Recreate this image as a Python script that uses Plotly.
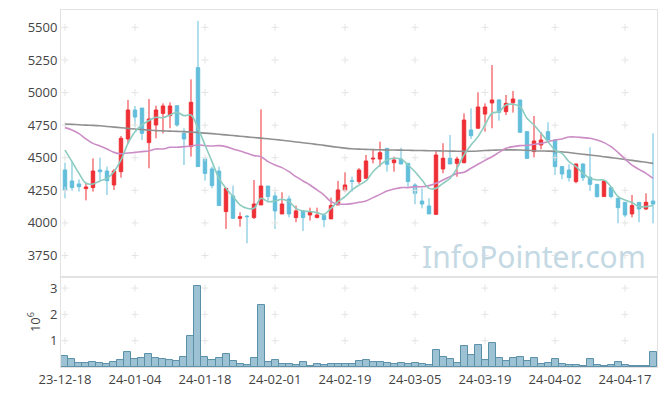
import plotly.graph_objects as go
from plotly.subplots import make_subplots

# ---------------- data ----------------
dates = [
    "2023-12-18", "2023-12-19", "2023-12-20", "2023-12-21", "2023-12-22", "2023-12-26", "2023-12-27", "2023-12-28",
    "2024-01-02", "2024-01-03", "2024-01-04", "2024-01-05", "2024-01-08", "2024-01-09", "2024-01-10", "2024-01-11",
    "2024-01-12", "2024-01-15", "2024-01-16", "2024-01-17", "2024-01-18", "2024-01-19", "2024-01-22", "2024-01-23",
    "2024-01-24", "2024-01-25", "2024-01-26", "2024-01-29", "2024-01-30", "2024-01-31",
    "2024-02-01", "2024-02-02", "2024-02-05", "2024-02-06", "2024-02-07", "2024-02-08", "2024-02-13", "2024-02-14",
    "2024-02-15", "2024-02-16", "2024-02-19", "2024-02-20", "2024-02-21", "2024-02-22", "2024-02-23", "2024-02-26",
    "2024-02-27", "2024-02-28", "2024-02-29",
    "2024-03-04", "2024-03-05", "2024-03-06", "2024-03-07", "2024-03-08", "2024-03-11", "2024-03-12", "2024-03-13",
    "2024-03-14", "2024-03-15", "2024-03-18", "2024-03-19", "2024-03-20", "2024-03-21", "2024-03-22", "2024-03-25",
    "2024-03-26", "2024-03-27", "2024-03-28", "2024-03-29",
    "2024-04-01", "2024-04-02", "2024-04-03", "2024-04-04", "2024-04-05", "2024-04-08", "2024-04-09", "2024-04-11",
    "2024-04-12", "2024-04-15", "2024-04-16", "2024-04-17", "2024-04-18", "2024-04-19", "2024-04-22", "2024-04-23",
]

opens = [4406, 4322, 4299, 4263, 4271, 4406, 4398, 4291, 4393, 4644,
         4866, 4881, 4616, 4751, 4840, 4823, 4899, 4687, 4585, 5191,
         4490, 4414, 4398, 4087, 4207, 4035, 4052, 4041, 4138, 4283,
         4207, 4069, 4184, 4041, 4092, 4061, 4041, 4056, 4031, 4138,
         4248, 4324, 4317, 4342, 4490, 4490, 4572, 4462, 4490, 4457,
         4291, 4168, 4130, 4066, 4414, 4496, 4457, 4462, 4713, 4726,
         4835, 4920, 4943, 4853, 4922, 4943, 4700, 4547, 4598, 4700,
         4636, 4432, 4406, 4317, 4452, 4350, 4296, 4202, 4271, 4189,
         4158, 4069, 4158, 4107, 4168]
highs = [4462, 4475, 4334, 4309, 4495, 4501, 4432, 4414, 4667, 4943,
         4897, 4881, 4950, 4899, 4917, 4925, 4899, 4726, 5101, 5549,
         4490, 4432, 4432, 4265, 4286, 4081, 4061, 4329, 4871, 4283,
         4240, 4235, 4209, 4133, 4099, 4117, 4117, 4069, 4194, 4322,
         4388, 4355, 4420, 4521, 4559, 4623, 4572, 4508, 4577, 4457,
         4304, 4265, 4189, 4552, 4611, 4674, 4508, 4840, 4879, 5002,
         4917, 5211, 4950, 4981, 5012, 4943, 4700, 4820, 4695, 4772,
         4636, 4432, 4450, 4452, 4457, 4580, 4296, 4322, 4271, 4189,
         4158, 4214, 4158, 4227, 4687]
lows = [4189, 4248, 4240, 4173, 4240, 4329, 4214, 4253, 4347, 4610,
        4738, 4636, 4419, 4649, 4687, 4726, 4738, 4444, 4508, 4432,
        4324, 4265, 4133, 3954, 4035, 3972, 3844, 4030, 4138, 4168,
        3954, 4069, 4043, 4005, 3938, 4018, 4036, 3967, 4031, 4138,
        4240, 4240, 4300, 4342, 4457, 4432, 4393, 4393, 4452, 4278,
        4143, 4112, 4069, 4061, 4381, 4452, 4354, 4457, 4644, 4726,
        4700, 4726, 4784, 4828, 4846, 4695, 4495, 4503, 4565, 4636,
        4368, 4335, 4317, 4304, 4322, 4245, 4194, 4202, 4189, 3997,
        4043, 4043, 4005, 4099, 3997]
closes = [4253, 4271, 4278, 4276, 4398, 4393, 4324, 4398, 4649, 4866,
          4812, 4687, 4797, 4866, 4897, 4897, 4751, 4644, 4925, 4432,
          4380, 4286, 4133, 4265, 4035, 4048, 4048, 4145, 4283, 4202,
          4092, 4145, 4069, 4092, 4041, 4081, 4061, 4025, 4133, 4253,
          4291, 4319, 4406, 4475, 4496, 4539, 4450, 4483, 4452, 4317,
          4227, 4145, 4069, 4521, 4496, 4452, 4490, 4789, 4669, 4889,
          4889, 4943, 4848, 4917, 4950, 4695, 4495, 4628, 4636, 4636,
          4432, 4375, 4347, 4452, 4347, 4296, 4202, 4322, 4202, 4117,
          4061, 4133, 4107, 4158, 4145]

ma5 = [4559, 4470, 4380, 4304, 4299, 4322, 4342, 4393, 4483, 4610,
       4700, 4751, 4785, 4810, 4807, 4828, 4848, 4823, 4828, 4726,
       4598, 4470, 4342, 4265, 4202, 4138, 4112, 4112, 4189, 4163,
       4168, 4181, 4163, 4112, 4092, 4087, 4079, 4066, 4112, 4163,
       4202, 4253, 4290, 4322, 4393, 4444, 4483, 4496, 4490, 4444,
       4393, 4329, 4265, 4265, 4304, 4342, 4419, 4521, 4598, 4662,
       4751, 4841, 4853, 4904, 4910, 4892, 4802, 4751, 4687, 4623,
       4559, 4534, 4470, 4432, 4380, 4342, 4329, 4329, 4278, 4202,
       4176, 4156, 4125, 4125, 4133]
ma20 = [4731, 4713, 4685, 4644, 4610, 4590, 4567, 4541, 4531, 4536,
        4541, 4547, 4552, 4567, 4567, 4580, 4580, 4585, 4590, 4598,
        4593, 4590, 4593, 4585, 4567, 4552, 4534, 4516, 4508, 4470,
        4444, 4424, 4393, 4355, 4322, 4291, 4253, 4214, 4163, 4145,
        4143, 4148, 4158, 4168, 4194, 4219, 4245, 4260, 4271, 4271,
        4278, 4278, 4286, 4304, 4329, 4355, 4380, 4388, 4419, 4450,
        4480, 4508, 4541, 4572, 4585, 4593, 4595, 4603, 4610, 4623,
        4636, 4644, 4659, 4659, 4654, 4649, 4636, 4616, 4585, 4541,
        4490, 4444, 4411, 4380, 4342]
ma120 = [4759, 4756, 4753, 4750, 4748, 4745, 4740, 4735, 4730, 4725,
         4720, 4716, 4712, 4708, 4706, 4704, 4702, 4700, 4697, 4693,
         4689, 4685, 4680, 4675, 4670, 4665, 4660, 4655, 4650, 4645,
         4640, 4634, 4628, 4621, 4615, 4609, 4602, 4595, 4587, 4580,
         4574, 4569, 4566, 4564, 4562, 4561, 4560, 4559, 4558, 4557,
         4556, 4555, 4554, 4553, 4552, 4551, 4550, 4549, 4550, 4552,
         4555, 4557, 4559, 4560, 4560, 4559, 4557, 4554, 4552, 4551,
         4549, 4545, 4540, 4533, 4527, 4521, 4515, 4508, 4501, 4494,
         4487, 4480, 4472, 4465, 4457]

volume_millions = [0.41, 0.29, 0.14, 0.14, 0.18, 0.14, 0.10, 0.18, 0.25, 0.56,
                   0.29, 0.33, 0.48, 0.33, 0.29, 0.25, 0.22, 0.37, 1.17, 3.07,
                   0.37, 0.25, 0.33, 0.48, 0.22, 0.10, 0.06, 0.33, 2.35, 0.18,
                   0.25, 0.10, 0.10, 0.06, 0.18, 0.03, 0.10, 0.06, 0.10, 0.10,
                   0.10, 0.10, 0.22, 0.25, 0.18, 0.18, 0.14, 0.10, 0.14, 0.10,
                   0.14, 0.10, 0.06, 0.64, 0.37, 0.29, 0.14, 0.79, 0.44, 0.83,
                   0.25, 0.90, 0.33, 0.22, 0.33, 0.37, 0.22, 0.33, 0.10, 0.14,
                   0.29, 0.10, 0.06, 0.06, 0.03, 0.29, 0.06, 0.03, 0.06, 0.18,
                   0.06, 0.03, 0.03, 0.03, 0.56]

price_ticks = [3750, 4000, 4250, 4500, 4750, 5000, 5250, 5500]
volume_ticks = [1, 2, 3]
x_tick_dates = dates[::10]
x_tick_labels = [d[2:] for d in x_tick_dates]

# ---------------- figure ----------------
fig = make_subplots(rows=2, cols=1, shared_xaxes=True, vertical_spacing=0,
                    row_heights=[0.748, 0.252])

fig.add_trace(go.Candlestick(
    x=dates, open=opens, high=highs, low=lows, close=closes,
    increasing=dict(line=dict(color="#ee2f35", width=1), fillcolor="#ee2f35"),
    decreasing=dict(line=dict(color="#62bedb", width=1), fillcolor="#62bedb"),
    showlegend=False), row=1, col=1)

cross_style = dict(symbol="cross-thin", size=5, line=dict(color="#e4e4e4", width=1))
fig.add_trace(go.Scatter(
    x=[d for d in x_tick_dates for _ in price_ticks],
    y=[p for _ in x_tick_dates for p in price_ticks],
    mode="markers", marker=cross_style, hoverinfo="skip", showlegend=False), row=1, col=1)
fig.add_trace(go.Scatter(
    x=[d for d in x_tick_dates for _ in volume_ticks],
    y=[v for _ in x_tick_dates for v in volume_ticks],
    mode="markers", marker=cross_style, hoverinfo="skip", showlegend=False), row=2, col=1)

fig.add_trace(go.Scatter(x=dates, y=ma120, mode="lines",
                         line=dict(color="#909090", width=1.6, shape="spline"),
                         showlegend=False), row=1, col=1)
fig.add_trace(go.Scatter(x=dates, y=ma20, mode="lines",
                         line=dict(color="#cc8dc6", width=1.6, shape="spline"),
                         showlegend=False), row=1, col=1)
fig.add_trace(go.Scatter(x=dates, y=ma5, mode="lines",
                         line=dict(color="#8ccbbf", width=1.6, shape="spline"),
                         showlegend=False), row=1, col=1)

fig.add_trace(go.Bar(x=dates, y=volume_millions,
                     marker=dict(color="#9dc2d3", line=dict(color="#5a8fa8", width=1)),
                     showlegend=False), row=2, col=1)

axis_common = dict(showline=True, linecolor="#e2e2e2", linewidth=1, mirror=True,
                   showgrid=False, zeroline=False, ticks="")
fig.update_xaxes(type="category", categoryorder="array", categoryarray=dates,
                 range=[-0.57, 84.57], rangeslider_visible=False, **axis_common)
fig.update_xaxes(showticklabels=False, row=1, col=1)
fig.update_xaxes(tickvals=x_tick_dates, ticktext=x_tick_labels, tickangle=0, row=2, col=1,
                 tickfont=dict(size=13, color="#444"))
fig.update_yaxes(range=[3585, 5633], tickvals=price_ticks, row=1, col=1,
                 tickfont=dict(size=13, color="#444"), **axis_common)
fig.update_yaxes(range=[0, 3.42], tickvals=volume_ticks, row=2, col=1,
                 tickfont=dict(size=13, color="#444"),
                 title=dict(text="10<sup>6</sup>", font=dict(size=13, color="#444"), standoff=6),
                 **axis_common)

fig.add_annotation(text="InfoPointer.com", xref="paper", yref="paper",
                   x=0.985, y=0.31, xanchor="right", yanchor="middle",
                   showarrow=False, font=dict(size=30, color="#c4d9e4", family="Noto Sans"))

fig.update_layout(width=665, height=396, margin=dict(l=61, r=8, t=10, b=29),
                  paper_bgcolor="white", plot_bgcolor="white", bargap=0,
                  font=dict(family="Open Sans", color="#444"), hovermode=False)

fig.write_html("out.html", config={"displayModeBar": False},
               post_script="document.body.style.margin='0';")
